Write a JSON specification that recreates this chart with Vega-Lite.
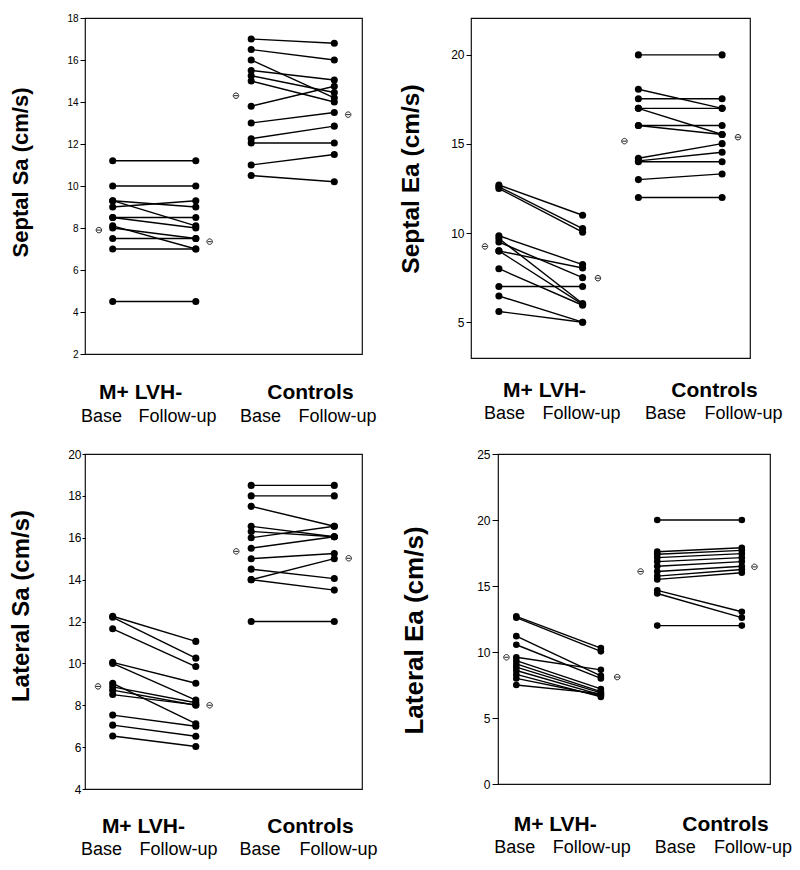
{
  "$schema": "https://vega.github.io/schema/vega-lite/v6.json",
  "background": "white",
  "padding": {"left": 9, "top": 12, "right": 5, "bottom": 5},
  "config": {
    "view": {"stroke": "#111", "strokeWidth": 1.2},
    "font": "Liberation Sans",
    "axis": {"labelColor": "black", "titleColor": "black", "tickColor": "black", "labelFont": "Liberation Sans", "titleFont": "Liberation Sans", "grid": false}
  },
  "datasets": {
    "p1": [
      {"s":"a1","x":1,"v":11.2},{"s":"a1","x":4,"v":11.2},
      {"s":"a2","x":1,"v":10.0},{"s":"a2","x":4,"v":10.0},
      {"s":"a3","x":1,"v":9.3},{"s":"a3","x":4,"v":9.0},
      {"s":"a4","x":1,"v":9.0},{"s":"a4","x":4,"v":9.3},
      {"s":"a5","x":1,"v":9.3},{"s":"a5","x":4,"v":8.1},
      {"s":"a6","x":1,"v":8.5},{"s":"a6","x":4,"v":8.5},
      {"s":"a7","x":1,"v":8.5},{"s":"a7","x":4,"v":8.0},
      {"s":"a8","x":1,"v":8.1},{"s":"a8","x":4,"v":7.0},
      {"s":"a9","x":1,"v":8.0},{"s":"a9","x":4,"v":7.5},
      {"s":"a10","x":1,"v":7.5},{"s":"a10","x":4,"v":7.5},
      {"s":"a11","x":1,"v":7.0},{"s":"a11","x":4,"v":7.0},
      {"s":"a12","x":1,"v":4.5},{"s":"a12","x":4,"v":4.5},
      {"s":"c1","x":6,"v":17.0},{"s":"c1","x":9,"v":16.8},
      {"s":"c2","x":6,"v":16.5},{"s":"c2","x":9,"v":16.0},
      {"s":"c3","x":6,"v":16.0},{"s":"c3","x":9,"v":14.2},
      {"s":"c4","x":6,"v":15.5},{"s":"c4","x":9,"v":15.05},
      {"s":"c5","x":6,"v":15.25},{"s":"c5","x":9,"v":14.45},
      {"s":"c6","x":6,"v":15.0},{"s":"c6","x":9,"v":14.0},
      {"s":"c7","x":6,"v":13.8},{"s":"c7","x":9,"v":14.75},
      {"s":"c8","x":6,"v":13.0},{"s":"c8","x":9,"v":13.5},
      {"s":"c9","x":6,"v":12.25},{"s":"c9","x":9,"v":12.85},
      {"s":"c10","x":6,"v":12.05},{"s":"c10","x":9,"v":12.05},
      {"s":"c11","x":6,"v":11.0},{"s":"c11","x":9,"v":11.5},
      {"s":"c12","x":6,"v":10.5},{"s":"c12","x":9,"v":10.2}
    ],
    "p1m": [{"x":0.5,"v":7.9},{"x":4.5,"v":7.35},{"x":5.45,"v":14.3},{"x":9.5,"v":13.4}],
    "p2": [
      {"s":"a1","x":1,"v":12.7},{"s":"a1","x":4,"v":11.0},
      {"s":"a2","x":1,"v":12.6},{"s":"a2","x":4,"v":10.25},
      {"s":"a3","x":1,"v":12.5},{"s":"a3","x":4,"v":10.05},
      {"s":"a4","x":1,"v":9.85},{"s":"a4","x":4,"v":8.23},
      {"s":"a5","x":1,"v":9.7},{"s":"a5","x":4,"v":6.05},
      {"s":"a6","x":1,"v":9.5},{"s":"a6","x":4,"v":7.5},
      {"s":"a7","x":1,"v":9.0},{"s":"a7","x":4,"v":8.04},
      {"s":"a8","x":1,"v":9.0},{"s":"a8","x":4,"v":6.0},
      {"s":"a9","x":1,"v":8.0},{"s":"a9","x":4,"v":5.95},
      {"s":"a10","x":1,"v":7.0},{"s":"a10","x":4,"v":7.0},
      {"s":"a11","x":1,"v":6.47},{"s":"a11","x":4,"v":5.0},
      {"s":"a12","x":1,"v":5.6},{"s":"a12","x":4,"v":5.0},
      {"s":"c1","x":6,"v":20.0},{"s":"c1","x":9,"v":20.0},
      {"s":"c2","x":6,"v":18.07},{"s":"c2","x":9,"v":17.0},
      {"s":"c3","x":6,"v":17.54},{"s":"c3","x":9,"v":17.54},
      {"s":"c4","x":6,"v":17.0},{"s":"c4","x":9,"v":17.0},
      {"s":"c5","x":6,"v":17.0},{"s":"c5","x":9,"v":15.53},
      {"s":"c6","x":6,"v":16.04},{"s":"c6","x":9,"v":16.04},
      {"s":"c7","x":6,"v":16.04},{"s":"c7","x":9,"v":15.53},
      {"s":"c8","x":6,"v":14.2},{"s":"c8","x":9,"v":15.02},
      {"s":"c9","x":6,"v":14.05},{"s":"c9","x":9,"v":14.54},
      {"s":"c10","x":6,"v":14.0},{"s":"c10","x":9,"v":14.0},
      {"s":"c11","x":6,"v":13.0},{"s":"c11","x":9,"v":13.32},
      {"s":"c12","x":6,"v":12.0},{"s":"c12","x":9,"v":12.0}
    ],
    "p2m": [{"x":0.5,"v":9.25},{"x":4.55,"v":7.47},{"x":5.5,"v":15.16},{"x":9.57,"v":15.38}],
    "p3": [
      {"s":"a1","x":1,"v":12.25},{"s":"a1","x":4,"v":11.05},
      {"s":"a2","x":1,"v":12.2},{"s":"a2","x":4,"v":10.25},
      {"s":"a3","x":1,"v":11.65},{"s":"a3","x":4,"v":9.85},
      {"s":"a4","x":1,"v":10.05},{"s":"a4","x":4,"v":9.05},
      {"s":"a5","x":1,"v":10.0},{"s":"a5","x":4,"v":8.25},
      {"s":"a6","x":1,"v":9.05},{"s":"a6","x":4,"v":7.12},
      {"s":"a7","x":1,"v":8.88},{"s":"a7","x":4,"v":8.12},
      {"s":"a8","x":1,"v":8.72},{"s":"a8","x":4,"v":8.0},
      {"s":"a9","x":1,"v":8.51},{"s":"a9","x":4,"v":8.02},
      {"s":"a10","x":1,"v":7.53},{"s":"a10","x":4,"v":7.0},
      {"s":"a11","x":1,"v":7.05},{"s":"a11","x":4,"v":6.52},
      {"s":"a12","x":1,"v":6.53},{"s":"a12","x":4,"v":6.03},
      {"s":"c1","x":6,"v":18.5},{"s":"c1","x":9,"v":18.5},
      {"s":"c2","x":6,"v":18.0},{"s":"c2","x":9,"v":18.0},
      {"s":"c3","x":6,"v":17.5},{"s":"c3","x":9,"v":16.55},
      {"s":"c4","x":6,"v":16.55},{"s":"c4","x":9,"v":16.05},
      {"s":"c5","x":6,"v":16.3},{"s":"c5","x":9,"v":16.05},
      {"s":"c6","x":6,"v":16.0},{"s":"c6","x":9,"v":16.55},
      {"s":"c7","x":6,"v":15.5},{"s":"c7","x":9,"v":16.05},
      {"s":"c8","x":6,"v":15.0},{"s":"c8","x":9,"v":15.25},
      {"s":"c9","x":6,"v":14.5},{"s":"c9","x":9,"v":14.05},
      {"s":"c10","x":6,"v":14.0},{"s":"c10","x":9,"v":15.0},
      {"s":"c11","x":6,"v":14.0},{"s":"c11","x":9,"v":13.5},
      {"s":"c12","x":6,"v":12.0},{"s":"c12","x":9,"v":12.0}
    ],
    "p3m": [{"x":0.47,"v":8.9},{"x":4.5,"v":8.0},{"x":5.46,"v":15.35},{"x":9.52,"v":15.02}],
    "p4": [
      {"s":"a1","x":1,"v":12.7},{"s":"a1","x":4,"v":10.3},
      {"s":"a2","x":1,"v":12.6},{"s":"a2","x":4,"v":10.05},
      {"s":"a3","x":1,"v":11.2},{"s":"a3","x":4,"v":8.2},
      {"s":"a4","x":1,"v":10.55},{"s":"a4","x":4,"v":8.0},
      {"s":"a5","x":1,"v":9.6},{"s":"a5","x":4,"v":8.65},
      {"s":"a6","x":1,"v":9.35},{"s":"a6","x":4,"v":7.2},
      {"s":"a7","x":1,"v":9.1},{"s":"a7","x":4,"v":7.0},
      {"s":"a8","x":1,"v":8.85},{"s":"a8","x":4,"v":6.9},
      {"s":"a9","x":1,"v":8.6},{"s":"a9","x":4,"v":6.75},
      {"s":"a10","x":1,"v":8.3},{"s":"a10","x":4,"v":6.6},
      {"s":"a11","x":1,"v":8.0},{"s":"a11","x":4,"v":6.7},
      {"s":"a12","x":1,"v":7.5},{"s":"a12","x":4,"v":6.85},
      {"s":"c1","x":6,"v":20.0},{"s":"c1","x":9,"v":20.0},
      {"s":"c2","x":6,"v":17.6},{"s":"c2","x":9,"v":17.9},
      {"s":"c3","x":6,"v":17.4},{"s":"c3","x":9,"v":17.7},
      {"s":"c4","x":6,"v":17.15},{"s":"c4","x":9,"v":17.45},
      {"s":"c5","x":6,"v":16.85},{"s":"c5","x":9,"v":17.15},
      {"s":"c6","x":6,"v":16.5},{"s":"c6","x":9,"v":16.85},
      {"s":"c7","x":6,"v":16.1},{"s":"c7","x":9,"v":16.5},
      {"s":"c8","x":6,"v":15.75},{"s":"c8","x":9,"v":16.25},
      {"s":"c9","x":6,"v":15.5},{"s":"c9","x":9,"v":16.0},
      {"s":"c10","x":6,"v":14.67},{"s":"c10","x":9,"v":13.05},
      {"s":"c11","x":6,"v":14.43},{"s":"c11","x":9,"v":12.6},
      {"s":"c12","x":6,"v":12.0},{"s":"c12","x":9,"v":12.0}
    ],
    "p4m": [{"x":0.65,"v":9.6},{"x":4.58,"v":8.1},{"x":5.41,"v":16.1},{"x":9.45,"v":16.45}]
  },
  "spacing": 20,
  "vconcat": [
    {
      "hconcat": [
        {
          "width": 277, "height": 336,
          "data": {"name": "p1"},
          "encoding": {
            "x": {"field": "x", "type": "quantitative", "scale": {"domain": [0, 10], "nice": false, "zero": false},
              "axis": {"title": null, "values": [0.58, 1.99, 3.32, 6.32, 8.12, 9.1], "domain": false, "ticks": false, "labelAngle": 0,
                "labelExpr": "datum.value == 1.99 ? 'M+ LVH-' : datum.value == 8.12 ? 'Controls' : (datum.value == 0.58 || datum.value == 6.32) ? ['', 'Base'] : ['', 'Follow-up']",
                "labelPadding": 27.5, "labelBaseline": "top", "labelLineHeight": 26.4, "labelOverlap": false, "labelFlush": false, "labelBound": false,
                "labelFontSize": {"condition": {"test": "datum.value == 1.99 || datum.value == 8.12", "value": 21}, "value": 18},
                "labelFontWeight": {"condition": {"test": "datum.value == 1.99 || datum.value == 8.12", "value": "bold"}, "value": "normal"}}},
            "y": {"field": "v", "type": "quantitative", "scale": {"domain": [2, 18], "nice": false, "zero": false},
              "axis": {"title": "Septal Sa (cm/s)", "values": [2, 4, 6, 8, 10, 12, 14, 16, 18], "domain": false, "tickSize": 5, "labelPadding": 2, "labelFontSize": 10,
                "titleFontSize": 22, "titleFontWeight": "bold", "titlePadding": 34, "titleY": 154}}
          },
          "layer": [
            {"mark": {"type": "line", "color": "black", "strokeWidth": 1.4}, "encoding": {"detail": {"field": "s"}}},
            {"mark": {"type": "point", "filled": true, "color": "black", "opacity": 1, "size": 50}},
            {"data": {"name": "p1m"}, "mark": {"type": "point", "shape": "M-1,0A1,1,0,1,1,1,0A1,1,0,1,1,-1,0ZM-0.75,0L0.75,0", "filled": false, "color": "#222", "opacity": 1, "size": 30, "strokeWidth": 1}}
          ]
        },
        {
          "width": 279, "height": 340,
          "data": {"name": "p2"},
          "encoding": {
            "x": {"field": "x", "type": "quantitative", "scale": {"domain": [0, 10], "nice": false, "zero": false},
              "axis": {"title": null, "values": [1.18, 2.62, 3.94, 6.95, 8.71, 9.75], "domain": false, "ticks": false, "labelAngle": 0,
                "labelExpr": "datum.value == 2.62 ? 'M+ LVH-' : datum.value == 8.71 ? 'Controls' : (datum.value == 1.18 || datum.value == 6.95) ? ['', 'Base'] : ['', 'Follow-up']",
                "labelPadding": 21.5, "labelBaseline": "top", "labelLineHeight": 25.4, "labelOverlap": false, "labelFlush": false, "labelBound": false,
                "labelFontSize": {"condition": {"test": "datum.value == 2.62 || datum.value == 8.71", "value": 21}, "value": 18},
                "labelFontWeight": {"condition": {"test": "datum.value == 2.62 || datum.value == 8.71", "value": "bold"}, "value": "normal"}}},
            "y": {"field": "v", "type": "quantitative", "scale": {"domain": [2.99, 22.07], "nice": false, "zero": false},
              "axis": {"title": "Septal Ea (cm/s)", "values": [5, 10, 15, 20], "domain": false, "tickSize": 5, "labelPadding": 2, "labelFontSize": 12,
                "titleFontSize": 24.5, "titleFontWeight": "bold", "titlePadding": 26.7, "titleY": 160.5}}
          },
          "layer": [
            {"mark": {"type": "line", "color": "black", "strokeWidth": 1.4}, "encoding": {"detail": {"field": "s"}}},
            {"mark": {"type": "point", "filled": true, "color": "black", "opacity": 1, "size": 50}},
            {"data": {"name": "p2m"}, "mark": {"type": "point", "shape": "M-1,0A1,1,0,1,1,1,0A1,1,0,1,1,-1,0ZM-0.75,0L0.75,0", "filled": false, "color": "#222", "opacity": 1, "size": 30, "strokeWidth": 1}}
          ]
        }
      ],
      "spacing": 109,
      "bounds": "flush"
    },
    {
      "hconcat": [
        {
          "width": 277, "height": 335,
          "data": {"name": "p3"},
          "encoding": {
            "x": {"field": "x", "type": "quantitative", "scale": {"domain": [0, 10], "nice": false, "zero": false},
              "axis": {"title": null, "values": [0.58, 2.09, 3.36, 6.3, 8.12, 9.13], "domain": false, "ticks": false, "labelAngle": 0,
                "labelExpr": "datum.value == 2.09 ? 'M+ LVH-' : datum.value == 8.12 ? 'Controls' : (datum.value == 0.58 || datum.value == 6.3) ? ['', 'Base'] : ['', 'Follow-up']",
                "labelPadding": 26.5, "labelBaseline": "top", "labelLineHeight": 25.4, "labelOverlap": false, "labelFlush": false, "labelBound": false,
                "labelFontSize": {"condition": {"test": "datum.value == 2.09 || datum.value == 8.12", "value": 21}, "value": 18},
                "labelFontWeight": {"condition": {"test": "datum.value == 2.09 || datum.value == 8.12", "value": "bold"}, "value": "normal"}}},
            "y": {"field": "v", "type": "quantitative", "scale": {"domain": [4, 20], "nice": false, "zero": false},
              "axis": {"title": "Lateral Sa (cm/s)", "values": [4, 6, 8, 10, 12, 14, 16, 18, 20], "domain": false, "tickSize": 3, "labelPadding": 1, "labelFontSize": 12,
                "titleFontSize": 24, "titleFontWeight": "bold", "titlePadding": 33.7, "titleY": 151.5}}
          },
          "layer": [
            {"mark": {"type": "line", "color": "black", "strokeWidth": 1.4}, "encoding": {"detail": {"field": "s"}}},
            {"mark": {"type": "point", "filled": true, "color": "black", "opacity": 1, "size": 50}},
            {"data": {"name": "p3m"}, "mark": {"type": "point", "shape": "M-1,0A1,1,0,1,1,1,0A1,1,0,1,1,-1,0ZM-0.75,0L0.75,0", "filled": false, "color": "#222", "opacity": 1, "size": 30, "strokeWidth": 1}}
          ]
        },
        {
          "width": 272, "height": 330,
          "data": {"name": "p4"},
          "encoding": {
            "x": {"field": "x", "type": "quantitative", "scale": {"domain": [0.35, 10], "nice": false, "zero": false},
              "axis": {"title": null, "values": [0.93, 2.36, 3.66, 6.62, 8.4, 9.38], "domain": false, "ticks": false, "labelAngle": 0,
                "labelExpr": "datum.value == 2.36 ? 'M+ LVH-' : datum.value == 8.4 ? 'Controls' : (datum.value == 0.93 || datum.value == 6.62) ? ['', 'Base'] : ['', 'Follow-up']",
                "labelPadding": 29.5, "labelBaseline": "top", "labelLineHeight": 25.4, "labelOverlap": false, "labelFlush": false, "labelBound": false,
                "labelFontSize": {"condition": {"test": "datum.value == 2.36 || datum.value == 8.4", "value": 21}, "value": 18},
                "labelFontWeight": {"condition": {"test": "datum.value == 2.36 || datum.value == 8.4", "value": "bold"}, "value": "normal"}}},
            "y": {"field": "v", "type": "quantitative", "scale": {"domain": [0, 25], "nice": false, "zero": false},
              "axis": {"title": "Lateral Ea (cm/s)", "values": [0, 5, 10, 15, 20, 25], "domain": false, "tickSize": 6, "labelPadding": 2, "labelFontSize": 12,
                "titleFontSize": 26, "titleFontWeight": "bold", "titlePadding": 48.7, "titleY": 176}}
          },
          "layer": [
            {"mark": {"type": "line", "color": "black", "strokeWidth": 1.4}, "encoding": {"detail": {"field": "s"}}},
            {"mark": {"type": "point", "filled": true, "color": "black", "opacity": 1, "size": 44}},
            {"data": {"name": "p4m"}, "mark": {"type": "point", "shape": "M-1,0A1,1,0,1,1,1,0A1,1,0,1,1,-1,0ZM-0.75,0L0.75,0", "filled": false, "color": "#222", "opacity": 1, "size": 30, "strokeWidth": 1}}
          ]
        }
      ],
      "spacing": 136,
      "bounds": "flush"
    }
  ]
}
